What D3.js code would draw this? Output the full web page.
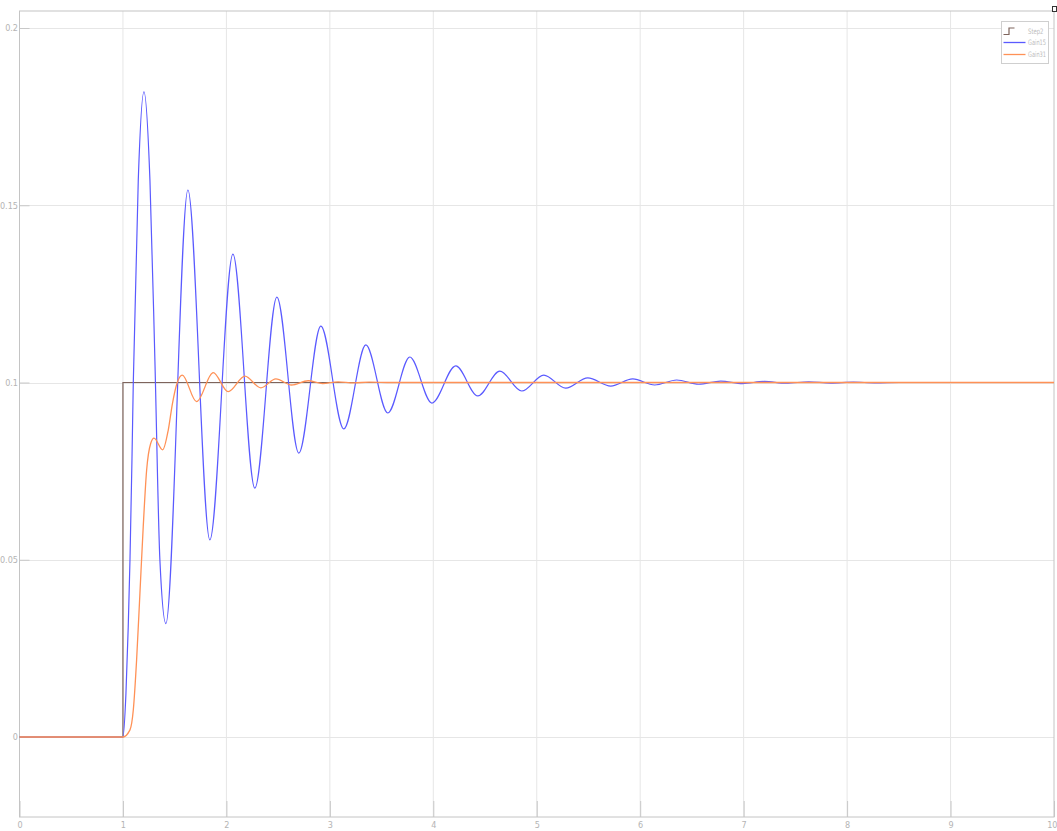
<!DOCTYPE html>
<html>
<head>
<meta charset="utf-8">
<script src="https://cdn.jsdelivr.net/npm/d3@7"></script>
<style>
  body { margin: 0; background: #fff; }
  svg { display: block; }
  .tick text { font-family: "Liberation Sans Narrow", "DejaVu Sans Condensed", sans-serif; font-size: 9px; fill: #b4b4b4; }
  .tick line { stroke: #c8c8c8; }
</style>
</head>
<body>
<svg id="chart"></svg>
<script>
// x ticks / y ticks
const xTicks = [0, 1, 2, 3, 4, 5, 6, 7, 8, 9, 10];
const yTicks = [0, 0.05, 0.1, 0.15, 0.2];

// Step2 (reference step)
const stepT = [0, 1, 10];
const stepV = [0, 0.1, 0.1];

// Gain15 (blue, lightly damped)
const blueT = [0, 1.0, 1.029, 1.051, 1.068, 1.087, 1.1, 1.148, 1.203, 1.261, 1.309, 1.357, 1.415,
  1.628, 1.84, 2.063, 2.275, 2.488, 2.70, 2.913, 3.135, 3.348, 3.56, 3.773, 3.986, 4.217, 4.43,
  4.643, 4.855, 5.068, 5.28, 5.493, 5.715, 5.928, 6.14, 6.353, 6.565, 6.778, 6.99, 7.2, 7.41,
  7.63, 7.84, 8.06, 8.27, 8.5, 10];
const blueV = [0, 0, 0.0123, 0.031, 0.05, 0.078, 0.1, 0.157, 0.182, 0.157, 0.106, 0.05, 0.032,
  0.1543, 0.0556, 0.1362, 0.0702, 0.1241, 0.0801, 0.1159, 0.0869, 0.1106, 0.0914, 0.1072, 0.0942, 0.1047, 0.0962,
  0.1032, 0.0976, 0.1021, 0.0984, 0.1013, 0.099, 0.101, 0.0993, 0.1007, 0.0995, 0.1004, 0.0997, 0.1003, 0.0998,
  0.1002, 0.09985, 0.1001, 0.0999, 0.1, 0.1];

// Gain31 (orange, better damped)
const orangeT = [0, 1.0, 1.068, 1.1, 1.132, 1.164, 1.196, 1.229, 1.268, 1.30, 1.384, 1.438, 1.478, 1.525,
  1.573, 1.712, 1.872, 2.017, 2.179, 2.333, 2.478, 2.63, 2.79, 2.93, 3.08, 3.23, 3.38, 3.6, 10];
const orangeV = [0, 0, 0.002, 0.0076, 0.0217, 0.0405, 0.0593, 0.0753, 0.0828, 0.0843, 0.081, 0.0866, 0.094, 0.1,
  0.1021, 0.0946, 0.1028, 0.0974, 0.1018, 0.0985, 0.101, 0.0993, 0.1005, 0.0997, 0.1002, 0.0999, 0.1001, 0.1, 0.1];

const legendNames = ["Step2", "Gain15", "Gain31"];
const colors = {step: "#7e645c", blue: "#5a5aff", orange: "#ff9156"};

const W = 1057, H = 831;
const svg = d3.select("#chart").attr("width", W).attr("height", H);

const x = d3.scaleLinear().domain([0, 10]).range([19.5, 1054]);
const y = d3.scaleLinear().domain([0, 0.2]).range([737, 28]);
const frameTop = 11, frameBottom = 817;

// grid
const grid = svg.append("g").attr("class", "grid");
grid.selectAll("line.v").data(xTicks.slice(1, -1)).enter().append("line")
  .attr("x1", d => x(d)).attr("x2", d => x(d)).attr("y1", frameTop).attr("y2", frameBottom)
  .attr("stroke", "#e6e6e6");
grid.selectAll("line.h").data(yTicks).enter().append("line")
  .attr("x1", x(0)).attr("x2", x(10)).attr("y1", d => Math.round(y(d)) + 0.5).attr("y2", d => Math.round(y(d)) + 0.5)
  .attr("stroke", "#e6e6e6");

// axes (inward ticks like the scope)
svg.append("g").attr("transform", `translate(0,${frameBottom})`)
  .call(d3.axisBottom(x).tickValues(xTicks).tickFormat(d3.format("d")).tickSizeInner(-16).tickSizeOuter(0).tickPadding(4.5))
  .call(g => g.select(".domain").remove())
  .call(g => g.selectAll(".tick text").filter(d => d === 10).attr("text-anchor", "end").attr("x", 3));
svg.append("g").attr("transform", `translate(${x(0)},0)`)
  .call(d3.axisLeft(y).tickValues(yTicks).tickFormat(d => d === 0 ? "0" : String(d)).tickSizeInner(-10).tickSizeOuter(0).tickPadding(1.5))
  .call(g => g.select(".domain").remove());

// frame
svg.append("rect")
  .attr("x", x(0)).attr("y", frameTop).attr("width", x(10) - x(0)).attr("height", frameBottom - frameTop)
  .attr("fill", "none").attr("stroke", "#c4c4c4");

// little corner icon
svg.append("rect").attr("x", 1052.5).attr("y", 6.5).attr("width", 4).attr("height", 5)
  .attr("fill", "#fff").attr("stroke", "#333").attr("stroke-width", 1);

const toPts = (ts, vs) => ts.map((t, i) => [t, vs[i]]);
const smooth = d3.line().x(d => x(d[0])).y(d => y(d[1])).curve(d3.curveMonotoneX);
const step = d3.line().x(d => x(d[0])).y(d => y(d[1])).curve(d3.curveStepAfter);

const plot = svg.append("g");
plot.append("path").attr("d", step(toPts(stepT, stepV)))
  .attr("fill", "none").attr("stroke", colors.step).attr("stroke-width", 1.2);
plot.append("path").attr("d", smooth(toPts(blueT, blueV)))
  .attr("fill", "none").attr("stroke", colors.blue).attr("stroke-width", 1.2);
plot.append("path").attr("d", smooth(toPts(orangeT, orangeV)))
  .attr("fill", "none").attr("stroke", colors.orange).attr("stroke-width", 1.3);

// legend
const lg = svg.append("g").attr("transform", "translate(1001.5,21.5)");
lg.append("rect").attr("width", 47).attr("height", 42).attr("fill", "#fff").attr("stroke", "#cfcfcf");
const rows = [9.5, 21, 33];
const labelW = [15.5, 18, 18];
lg.append("path").attr("d", `M2,${rows[0] + 3.5}H7.5V${rows[0] - 3}H13`)
  .attr("fill", "none").attr("stroke", colors.step).attr("stroke-width", 1.2);
lg.append("line").attr("x1", 2).attr("x2", 24).attr("y1", rows[1]).attr("y2", rows[1])
  .attr("stroke", colors.blue).attr("stroke-width", 1.3);
lg.append("line").attr("x1", 2).attr("x2", 24).attr("y1", rows[2]).attr("y2", rows[2])
  .attr("stroke", colors.orange).attr("stroke-width", 1.3);
lg.selectAll("text").data(legendNames).enter().append("text")
  .attr("x", 26.5).attr("y", (d, i) => rows[i]).attr("dy", "0.35em")
  .attr("font-family", "Liberation Sans Narrow, DejaVu Sans Condensed, sans-serif")
  .attr("font-size", "7.5px").attr("fill", "#bcbcbc")
  .attr("textLength", (d, i) => labelW[i]).attr("lengthAdjust", "spacingAndGlyphs")
  .text(d => d);
</script>
</body>
</html>
